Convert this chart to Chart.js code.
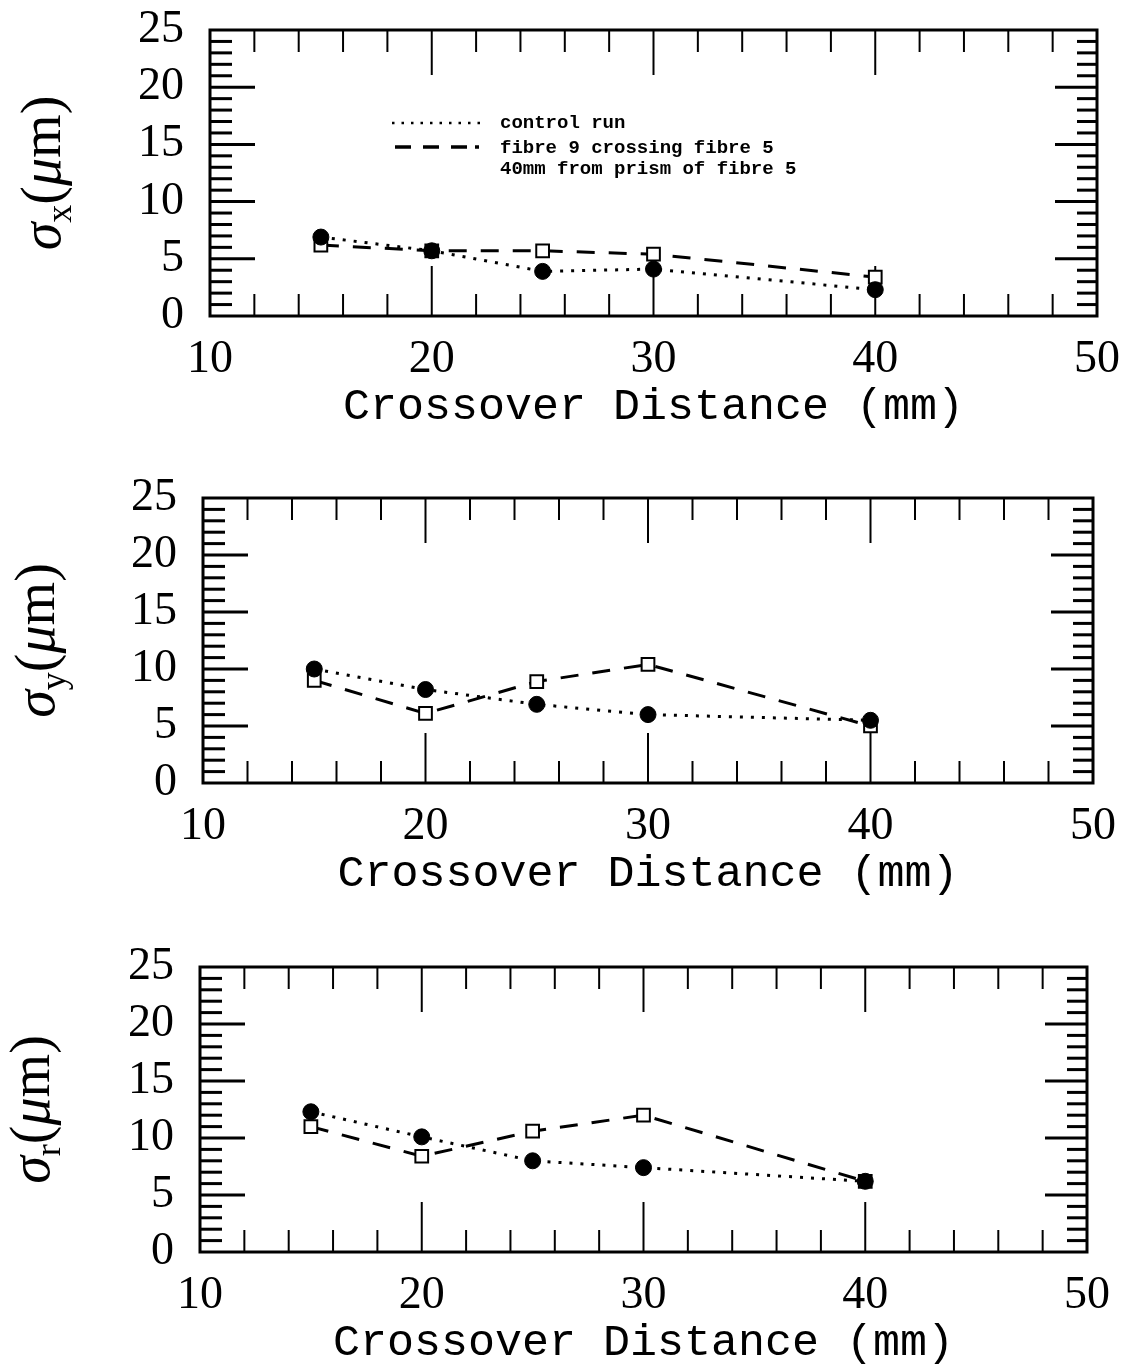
<!DOCTYPE html>
<html>
<head>
<meta charset="utf-8">
<script src="https://cdn.jsdelivr.net/npm/chart.js@4.4.0/dist/chart.umd.min.js"></script>
<style>
  body { margin: 0; background: #fff; }
  #wrap { position: relative; width: 1132px; height: 1371px; overflow: hidden; }
  #wrap canvas { position: absolute; left: 0; top: 0; }
</style>
</head>
<body>
<div id="wrap">
  <canvas id="c1" width="1132" height="1371"></canvas>
  <canvas id="c2" width="1132" height="1371"></canvas>
  <canvas id="c3" width="1132" height="1371"></canvas>
</div>
<script>
// crossover distance (mm)
const distances = [15, 20, 25, 30, 40];

// sigma_x (um)
const sigmaXControl = [6.9, 5.7, 3.9, 4.1, 2.3];
const sigmaXCrossing = [6.2, 5.7, 5.7, 5.4, 3.4];
// sigma_y (um)
const sigmaYControl = [10.0, 8.2, 6.9, 6.0, 5.5];
const sigmaYCrossing = [9.0, 6.1, 8.9, 10.4, 5.0];
// sigma_r (um)
const sigmaRControl = [12.3, 10.1, 8.0, 7.4, 6.2];
const sigmaRCrossing = [11.0, 8.4, 10.6, 12.0, 6.2];

const controlLabel = ["control run"];
const crossingLabel = ["fibre 9 crossing fibre 5", "40mm from prism of fibre 5"];
const xTitle = "Crossover Distance (mm)";

const toPoints = (ys) => ys.map((v, i) => ({ x: distances[i], y: v }));

// frame + inward ticks like the old plotting package
const frameTicks = {
  id: "frameTicks",
  beforeDatasetsDraw(chart) {
    const { ctx, chartArea: a, scales } = chart;
    const x = scales.x, y = scales.y;
    const seg = (x1, y1, x2, y2) => {
      ctx.beginPath();
      ctx.moveTo(x1, y1);
      ctx.lineTo(x2, y2);
      ctx.stroke();
    };
    ctx.save();
    ctx.strokeStyle = "#000";
    ctx.lineWidth = 3;
    for (let v = 1; v < 25; v++) {
      const py = y.getPixelForValue(v);
      const major = v % 5 === 0;
      seg(a.left, py, a.left + (major ? 45 : 22), py);
      seg(a.right, py, a.right - (major ? 42 : 20), py);
    }
    ctx.lineWidth = 2;
    for (let v = 12; v < 50; v += 2) {
      const px = x.getPixelForValue(v);
      const major = v % 10 === 0;
      seg(px, a.bottom, px, a.bottom - (major ? 50 : 22));
      seg(px, a.top, px, a.top + (major ? 45 : 22));
    }
    ctx.lineWidth = 3;
    ctx.strokeRect(a.left, a.top, a.right - a.left, a.bottom - a.top);
    ctx.restore();
  },
};

// rotated y title: sigma with subscript
const sigmaTitle = {
  id: "sigmaTitle",
  afterDraw(chart, args, opts) {
    if (!opts || !opts.sub) return;
    const { ctx, chartArea: a } = chart;
    const parts = [
      { t: "σ", f: "italic 56px 'Liberation Serif'", dy: 0 },
      { t: opts.sub, f: "36px 'Liberation Serif'", dy: 11 },
      { t: "(", f: "56px 'Liberation Serif'", dy: 0 },
      { t: "μ", f: "italic 56px 'Liberation Serif'", dy: 0 },
      { t: "m)", f: "56px 'Liberation Serif'", dy: 0 },
    ];
    ctx.save();
    ctx.fillStyle = "#000";
    ctx.textBaseline = "alphabetic";
    let total = 0;
    parts.forEach((p) => {
      ctx.font = p.f;
      p.w = ctx.measureText(p.t).width;
      total += p.w;
    });
    ctx.translate(opts.base, (a.top + a.bottom) / 2);
    ctx.rotate(-Math.PI / 2);
    let u = -total / 2;
    parts.forEach((p) => {
      ctx.font = p.f;
      ctx.fillText(p.t, u, p.dy);
      u += p.w;
    });
    ctx.restore();
  },
};

// hand-made legend inside the top panel
const boxLegend = {
  id: "boxLegend",
  afterDraw(chart, args, opts) {
    if (!opts || !opts.show) return;
    const { ctx } = chart;
    ctx.save();
    ctx.strokeStyle = "#000";
    ctx.fillStyle = "#000";
    ctx.lineWidth = 2.5;
    ctx.setLineDash([2.5, 7]);
    ctx.beginPath();
    ctx.moveTo(392, 123);
    ctx.lineTo(482, 123);
    ctx.stroke();
    ctx.lineWidth = 3.5;
    ctx.setLineDash([16, 12, 16, 12, 16, 8, 4, 100]);
    ctx.beginPath();
    ctx.moveTo(395, 147);
    ctx.lineTo(482, 147);
    ctx.stroke();
    ctx.setLineDash([]);
    ctx.font = "bold 19px 'Liberation Mono'";
    ctx.textBaseline = "middle";
    ctx.fillText(controlLabel[0], 500, 123);
    ctx.fillText(crossingLabel[0], 500, 148);
    ctx.fillText(crossingLabel[1], 500, 169);
    ctx.restore();
  },
};

const panels = [
  { id: "c1", left: 210, right: 1097, top: 30, bottom: 316, sub: "x", base: 60,
    control: sigmaXControl, crossing: sigmaXCrossing, legend: true },
  { id: "c2", left: 203, right: 1093, top: 498, bottom: 783, sub: "y", base: 54,
    control: sigmaYControl, crossing: sigmaYCrossing, legend: false },
  { id: "c3", left: 200, right: 1087, top: 967, bottom: 1252, sub: "r", base: 49,
    control: sigmaRControl, crossing: sigmaRCrossing, legend: false },
];

const Y_W = 150;
const X_H = 118;
const tickFont = { family: "'Liberation Serif'", size: 46 };

panels.forEach((p) => {
  const ctx = document.getElementById(p.id).getContext("2d");
  new Chart(ctx, {
    type: "line",
    data: {
      datasets: [
        {
          label: controlLabel[0],
          data: toPoints(p.control),
          borderColor: "#000",
          borderWidth: 3,
          borderDash: [3, 8],
          pointStyle: "circle",
          pointRadius: 8,
          pointBackgroundColor: "#000",
          pointBorderColor: "#000",
          pointBorderWidth: 1,
          tension: 0,
        },
        {
          label: crossingLabel.join(" "),
          data: toPoints(p.crossing),
          borderColor: "#000",
          borderWidth: 3,
          borderDash: [18, 14],
          pointStyle: "rect",
          pointRadius: 9,
          pointBackgroundColor: "#fff",
          pointBorderColor: "#000",
          pointBorderWidth: 2,
          tension: 0,
        },
      ],
    },
    options: {
      responsive: false,
      animation: false,
      events: [],
      layout: {
        padding: {
          left: p.left - Y_W,
          right: 1132 - p.right,
          top: p.top,
          bottom: 1371 - p.bottom - X_H,
        },
      },
      plugins: {
        legend: { display: false },
        tooltip: { enabled: false },
        sigmaTitle: { sub: p.sub, base: p.base },
        boxLegend: { show: p.legend },
      },
      scales: {
        x: {
          type: "linear",
          min: 10,
          max: 50,
          ticks: {
            stepSize: 10,
            padding: 16,
            autoSkip: false,
            color: "#000",
            maxRotation: 0,
            font: tickFont,
          },
          grid: { display: false, drawTicks: false },
          border: { display: false },
          title: {
            display: true,
            text: xTitle,
            color: "#000",
            padding: 0,
            font: { family: "'Liberation Mono'", size: 45 },
          },
          afterFit: (s) => {
            s.height = X_H;
            s.paddingLeft = 0;
            s.paddingRight = 0;
          },
        },
        y: {
          min: 0,
          max: 25,
          ticks: {
            stepSize: 5,
            padding: 26,
            autoSkip: false,
            color: "#000",
            font: tickFont,
          },
          grid: { display: false, drawTicks: false },
          border: { display: false },
          afterFit: (s) => {
            s.width = Y_W;
            s.paddingTop = 0;
            s.paddingBottom = 0;
          },
        },
      },
    },
    plugins: [frameTicks, sigmaTitle, boxLegend],
  });
});
</script>
</body>
</html>
